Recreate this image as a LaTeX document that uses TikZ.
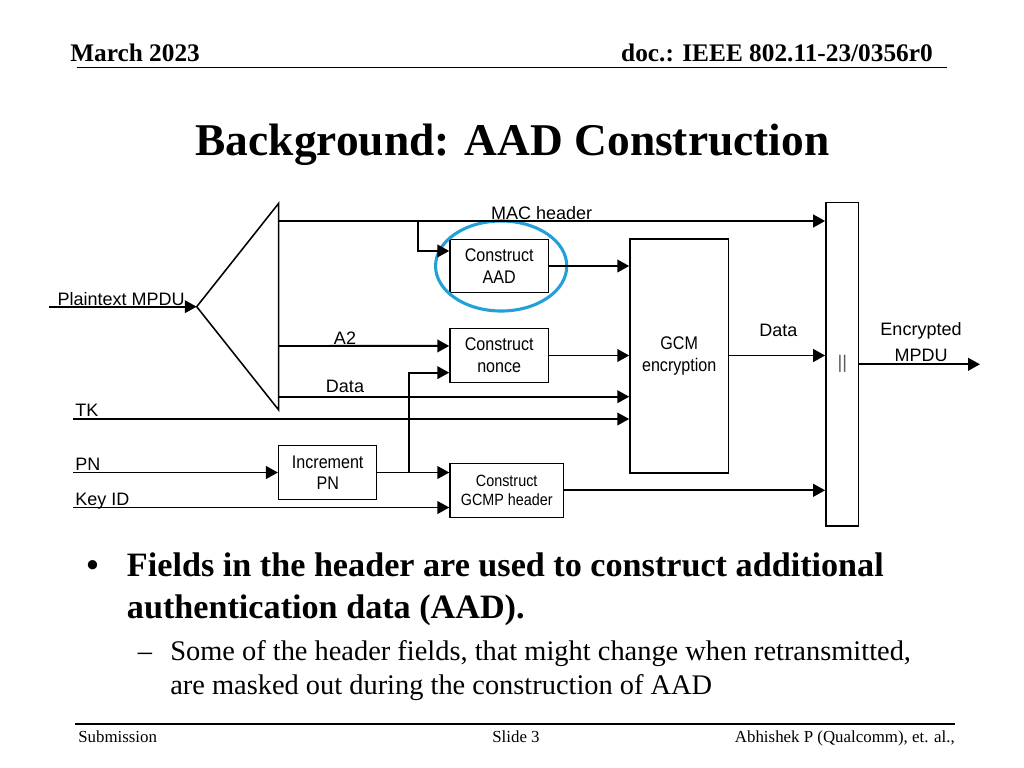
\documentclass[tikz,border=0pt]{standalone}
\usepackage{fontspec}
\setmainfont{Liberation Serif}
\newfontfamily\diagfont{Liberation Sans}
\newfontfamily\boxfont[FakeStretch=0.88]{Liberation Sans}
\usetikzlibrary{arrows.meta,positioning}
\definecolor{hilite}{HTML}{22A0D8}

\tikzset{
  blk/.style={draw,line width=1.1pt,align=center,inner sep=0pt,
    font=\boxfont\fontsize{13}{15.4}\selectfont},
  sig/.style={line width=1.4pt,-{Triangle[length=8.5pt,width=9pt]}},
  lbl/.style={inner sep=0pt,font=\diagfont\fontsize{12.8}{18.5}\selectfont},
  rule/.style={line width=1pt},
}

\begin{document}
\begin{tikzpicture}[x=0.025cm,y=-0.025cm]
\useasboundingbox (0,0) rectangle (1024,768);

\node[anchor=base west,inner sep=0pt,font=\bfseries\fontsize{18}{20}\selectfont] (date) at (70,61.7) {March 2023};
\node[anchor=base east,inner sep=0pt,font=\bfseries\fontsize{18}{20}\selectfont] (docid) at (933,61.7) {doc.: IEEE 802.11-23/0356r0};
\coordinate (hl) at (76.7,67.7);
\coordinate (hr) at (946.7,67.7);
\draw[rule] (hl) -- (hr);

\node[anchor=base,inner sep=0pt,font=\bfseries\fontsize{32.3}{36}\selectfont] (title) at (512.5,155) {Background: AAD Construction};

% splitter
\coordinate (apex) at (196.7,306.7);
\coordinate (ttop) at (278.7,203.3);
\coordinate (tbot) at (278.7,410);
\draw[line width=1.1pt] (apex) -- (ttop) -- (tbot) -- cycle;

\node[blk,minimum width=2.46cm,minimum height=1.335cm] (aad) at (499.2,266) {Construct\\AAD};
\node[blk,minimum width=2.46cm,minimum height=1.36cm] (nonce) at (499.2,355.5) {Construct\\nonce};
\node[blk,minimum width=2.46cm,minimum height=5.835cm] (gcm) at (679.2,356) {GCM\\encryption};
\node[blk,minimum width=2.45cm,minimum height=1.34cm,font=\boxfont\fontsize{13}{15}\selectfont] (incpn) at (327.7,472.5) {Increment\\PN};
\node[blk,minimum width=2.83cm,minimum height=1.35cm,font=\boxfont\fontsize{11.6}{13.5}\selectfont] (gcmp) at (506.7,490.3) {Construct\\GCMP header};
\node[blk,minimum width=0.82cm,minimum height=8.08cm,font=\diagfont\fontsize{13}{15}\selectfont,text=black!65] (concat) at (842.3,364.3) {\raisebox{-4pt}{||}};

\draw[hilite,line width=2.2pt] ([xshift=1.4pt]aad.center) ellipse [x radius=1.64cm, y radius=1.125cm];

\coordinate (ptin) at (49.3,306.7);
\coordinate (mac) at (278.7,221);
\coordinate (macbr) at (417.7,221);
\coordinate (a2) at (278.7,346);
\coordinate (dat) at (278.7,396.7);
\coordinate (tk) at (73.3,419);
\coordinate (pn) at (73.3,472.5);
\coordinate (kid) at (73.3,507.5);
\coordinate (pnbr) at (409.3,472.5);
\coordinate (gcmout) at (gcm.east |- nonce.east);
\coordinate (outend) at (980,364.3);

\draw[sig] (ptin) -- (apex);
\draw[sig] (mac) -- (mac -| concat.west);
\draw[sig] (macbr) |- ([yshift=10.7pt]aad.west);
\draw[sig] (a2) -- ([yshift=6.8pt]nonce.west);
\draw[sig] (dat) -- (dat -| gcm.west);
\draw[sig] (tk) -- (tk -| gcm.west);
\draw[sig] (pn) -- (incpn.west);
\draw[sig] (kid) -- (kid -| gcmp.west);
\draw[sig] (incpn.east) -- (incpn.east -| gcmp.west);
\draw[sig] (pnbr) |- ([yshift=-12.2pt]nonce.west);
\draw[sig] (aad.east) -- (aad.east -| gcm.west);
\draw[sig] (nonce.east) -- (nonce.east -| gcm.west);
\draw[sig] (gcmout) -- (gcmout -| concat.west);
\draw[sig] (gcmp.east) -- (gcmp.east -| concat.west);
\draw[sig] (concat.east) -- (outend);

\node[lbl,anchor=base west] (ptlbl) at (57.3,305) {Plaintext MPDU};
\node[lbl,anchor=base] (maclbl) at (541.7,219.5) {MAC header};
\node[lbl,anchor=base] (a2lbl) at (345,344.5) {A2};
\node[lbl,anchor=base] (datlbl) at (345,392) {Data};
\node[lbl,anchor=base west] (tklbl) at (75,416.5) {TK};
\node[lbl,anchor=base west] (pnlbl) at (75,470.5) {PN};
\node[lbl,anchor=base west] (kidlbl) at (75,505) {Key ID};
\node[lbl,anchor=base] (enclbl) at (778.3,336.5) {Data};
\node[lbl,align=center] (outlbl) at (921,342) {Encrypted\\MPDU};

\node[anchor=base,inner sep=0pt,font=\bfseries\fontsize{24.3}{29.6}\selectfont] (dot) at (92.7,576.7) {•};
\node[anchor=base west,inner sep=0pt,align=left,font=\bfseries\fontsize{24.3}{29.6}\selectfont] (pt1) at (126.7,618.3) {Fields in the header are used to construct additional\\authentication data (AAD).};
\node[anchor=base,inner sep=0pt,font=\fontsize{20.2}{23.7}\selectfont] (dash) at (145,660.7) {–};
\node[anchor=base west,inner sep=0pt,align=left,font=\fontsize{20.2}{23.7}\selectfont] (pt2) at (170,694) {Some of the header fields, that might change when retransmitted,\\are masked out during the construction of AAD};

\coordinate (fl) at (75,724);
\coordinate (fr) at (955,724);
\draw[rule] (fl) -- (fr);
\node[anchor=base west,inner sep=0pt,font=\fontsize{12}{14}\selectfont] (sub) at (78,742) {Submission};
\node[anchor=base,inner sep=0pt,font=\fontsize{12}{14}\selectfont] (slide) at (516,742) {Slide 3};
\node[anchor=base east,inner sep=0pt,font=\fontsize{12}{14}\selectfont] (auth) at (955,742) {Abhishek P (Qualcomm), et. al.,};
\end{tikzpicture}
\end{document}
